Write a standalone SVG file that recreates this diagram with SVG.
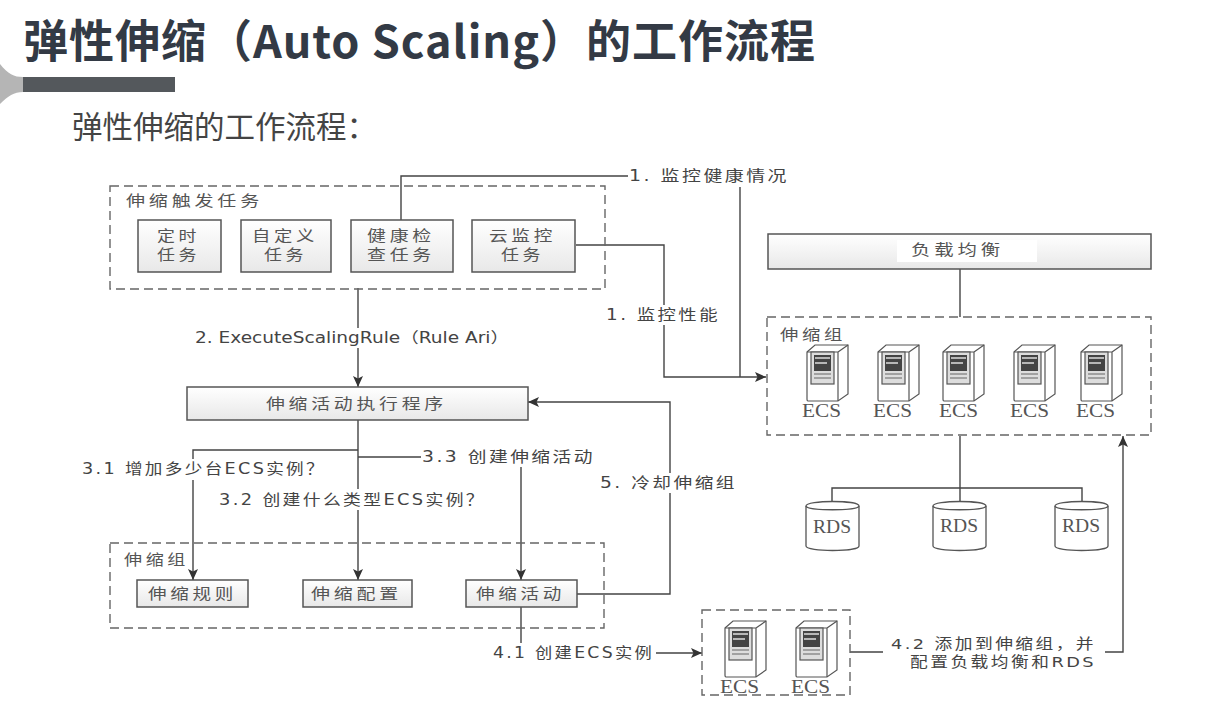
<svg xmlns="http://www.w3.org/2000/svg" width="1221" height="721" viewBox="0 0 1221 721">
<defs>
<linearGradient id="g" x1="0" y1="0" x2="0" y2="1"><stop offset="0" stop-color="#fff"/><stop offset="1" stop-color="#e8e8e8"/></linearGradient>
<marker id="a" markerUnits="userSpaceOnUse" markerWidth="12" markerHeight="10" refX="11" refY="5" orient="auto"><path d="M0 0L11 5L0 10L2.5 5Z" fill="#333"/></marker>
<g id="srv">
<path d="M0 7L8 0H41V49L31 56H1Q0 56 0 54Z" fill="#fff" stroke="#555" stroke-width="1.2"/>
<path d="M0 7H31V56M31 7L41 0" fill="none" stroke="#555" stroke-width="1.2"/>
<rect x="4" y="7" width="23" height="32" fill="#ddd" stroke="#555" stroke-width="1.2"/>
<rect x="7" y="10" width="17" height="16" fill="#444"/>
<path d="M8 13H23M8 18H20" stroke="#ddd" stroke-width="1.3"/>
<path d="M7 29H24M7 33H24" stroke="#666" stroke-width="1.2"/>
</g>
<g id="cyl">
<path d="M0 5C0 -1 53 -1 53 5V45C53 51 0 51 0 45Z" fill="#fff" stroke="#555" stroke-width="1.3"/>
<path d="M0 5C0 10 53 10 53 5" fill="none" stroke="#555" stroke-width="1.3"/>
</g>
</defs>
<style>
.z{font-family:"Noto Sans CJK SC","Liberation Sans",sans-serif}
.l{font-size:15px;letter-spacing:2px;fill:#444;font-family:"DejaVu Sans","Noto Sans CJK SC",sans-serif}
.t{font-size:14.5px}
.n{font-size:15px;letter-spacing:3px;fill:#555;font-family:"Noto Sans CJK SC",sans-serif}
.b{fill:url(#g);stroke:#555;stroke-width:1.5}
.d{fill:none;stroke:#666;stroke-width:1.4;stroke-dasharray:9 5}
.c{fill:none;stroke:#444;stroke-width:1.4}
.m{fill:#fff}
.e{font-family:"Liberation Serif",serif;font-size:19px;fill:#555}
</style>
<rect width="1221" height="721" fill="#fff"/>
<g id="decor"><path d="M0 64C8 74 14 77 23 77V92C14 92 8 96 0 104Z" fill="#b5b5b5"/><rect x="23" y="77" width="152" height="15" fill="#54585c"/></g>
<text x="23" y="58" class="z" font-size="45" font-weight="700" fill="#333a45" textLength="792">弹性伸缩（Auto Scaling）的工作流程</text>
<text x="72" y="138" class="z" font-size="30.5" fill="#444">弹性伸缩的工作流程：</text>
<g id="connectors">
<path class="c" d="M401 220V176H628"/>
<path class="c" d="M740 187V377"/>
<path class="c" d="M576 245H664V377H766" marker-end="url(#a)"/>
<path class="c" d="M358 288V387" marker-end="url(#a)"/>
<path class="c" d="M358 420V580" marker-end="url(#a)"/>
<path class="c" d="M358 450H193V580" marker-end="url(#a)"/>
<path class="c" d="M358 457H521V580" marker-end="url(#a)"/>
<path class="c" d="M577 594H670V402H528" marker-end="url(#a)"/>
<path class="c" d="M521 607V653H702" marker-end="url(#a)"/>
<path class="c" d="M850 652H1123V436" marker-end="url(#a)"/>
<path class="c" d="M960 269V317"/>
<path class="c" d="M960 436V511"/>
<path class="c" d="M832 502V488H1082V502"/>
</g>
<g id="trigger-group"><rect class="d" x="110" y="186" width="495" height="103"/><text x="126" y="206" class="n" textLength="137" lengthAdjust="spacingAndGlyphs">伸缩触发任务</text></g>
<g id="n1"><rect class="b" x="138" y="220" width="83" height="52"/><text class="n" x="157" y="241" textLength="43" lengthAdjust="spacingAndGlyphs">定时</text><text class="n" x="157" y="260" textLength="43" lengthAdjust="spacingAndGlyphs">任务</text></g>
<g id="n2"><rect class="b" x="241" y="220" width="90" height="52"/><text class="n" x="252" y="241" textLength="66" lengthAdjust="spacingAndGlyphs">自定义</text><text class="n" x="264" y="260" textLength="43" lengthAdjust="spacingAndGlyphs">任务</text></g>
<g id="n3"><rect class="b" x="351" y="220" width="102" height="52"/><text class="n" x="367" y="241" textLength="68" lengthAdjust="spacingAndGlyphs">健康检</text><text class="n" x="367" y="260" textLength="68" lengthAdjust="spacingAndGlyphs">查任务</text></g>
<g id="n4"><rect class="b" x="472" y="220" width="103" height="52"/><text class="n" x="489" y="241" textLength="67" lengthAdjust="spacingAndGlyphs">云监控</text><text class="n" x="501" y="260" textLength="43" lengthAdjust="spacingAndGlyphs">任务</text></g>
<g id="exec"><rect class="b" x="187" y="387" width="341" height="33"/><text class="n" x="266" y="409" textLength="181" lengthAdjust="spacingAndGlyphs">伸缩活动执行程序</text></g>
<g id="scale-group"><rect class="d" x="110" y="543" width="494" height="85"/><text x="124" y="565" class="n" textLength="65" lengthAdjust="spacingAndGlyphs">伸缩组</text></g>
<g id="n5"><rect class="b" x="137" y="580" width="111" height="27"/><text class="n" x="148" y="599" textLength="89" lengthAdjust="spacingAndGlyphs">伸缩规则</text></g>
<g id="n6"><rect class="b" x="303" y="580" width="109" height="27"/><text class="n" x="311" y="599" textLength="91" lengthAdjust="spacingAndGlyphs">伸缩配置</text></g>
<g id="n7"><rect class="b" x="466" y="580" width="111" height="27"/><text class="n" x="476" y="599" textLength="89" lengthAdjust="spacingAndGlyphs">伸缩活动</text></g>
<g id="lb"><rect class="b" x="768" y="234" width="383" height="35"/><rect class="m" x="897" y="240" width="140" height="22"/><text class="n" x="911" y="255" textLength="93" lengthAdjust="spacingAndGlyphs">负载均衡</text></g>
<g id="ecs-group"><rect class="d" x="767" y="317" width="384" height="118"/><text x="780" y="340" class="n" textLength="66" lengthAdjust="spacingAndGlyphs">伸缩组</text>
<use href="#srv" x="807" y="345"/><use href="#srv" x="878" y="345"/><use href="#srv" x="943" y="345"/><use href="#srv" x="1014" y="345"/><use href="#srv" x="1081" y="345"/>
<text class="e" x="802" y="417" textLength="39" lengthAdjust="spacingAndGlyphs">ECS</text><text class="e" x="873" y="417" textLength="39" lengthAdjust="spacingAndGlyphs">ECS</text><text class="e" x="939" y="417" textLength="39" lengthAdjust="spacingAndGlyphs">ECS</text><text class="e" x="1010" y="417" textLength="39" lengthAdjust="spacingAndGlyphs">ECS</text><text class="e" x="1076" y="417" textLength="39" lengthAdjust="spacingAndGlyphs">ECS</text></g>
<g id="rds1"><use href="#cyl" x="806" y="501"/><text class="e" x="813" y="533" textLength="38" lengthAdjust="spacingAndGlyphs">RDS</text></g>
<g id="rds2"><use href="#cyl" x="933" y="501"/><text class="e" x="940" y="532" textLength="38" lengthAdjust="spacingAndGlyphs">RDS</text></g>
<g id="rds3"><use href="#cyl" x="1055" y="501"/><text class="e" x="1062" y="532" textLength="38" lengthAdjust="spacingAndGlyphs">RDS</text></g>
<g id="new-ecs"><rect class="d" x="702" y="610" width="148" height="85"/>
<use href="#srv" x="725" y="621"/><use href="#srv" x="796" y="621"/>
<text class="e" x="720" y="693" textLength="39" lengthAdjust="spacingAndGlyphs">ECS</text><text class="e" x="791" y="693" textLength="39" lengthAdjust="spacingAndGlyphs">ECS</text></g>
<g id="labels">
<rect class="m" x="628" y="166" width="163" height="20"/>
<text class="l" x="629" y="181" textLength="160" lengthAdjust="spacingAndGlyphs">1. 监控健康情况</text>
<rect class="m" x="605" y="305" width="118" height="20"/>
<text class="l" x="606" y="320" textLength="114" lengthAdjust="spacingAndGlyphs">1. 监控性能</text>
<rect class="m" x="193" y="328" width="318" height="20"/>
<text class="l" x="195" y="343" textLength="314" lengthAdjust="spacingAndGlyphs" style="letter-spacing:0">2. ExecuteScalingRule（Rule Ari）</text>
<rect class="m" x="81" y="459" width="248" height="21"/>
<text class="l" x="82" y="474" textLength="244" lengthAdjust="spacingAndGlyphs">3.1 增加多少台ECS实例？</text>
<rect class="m" x="218" y="489" width="270" height="21"/>
<text class="l" x="219" y="505" textLength="267" lengthAdjust="spacingAndGlyphs">3.2 创建什么类型ECS实例？</text>
<rect class="m" x="421" y="447" width="176" height="20"/>
<text class="l" x="422" y="462" textLength="173" lengthAdjust="spacingAndGlyphs">3.3 创建伸缩活动</text>
<rect class="m" x="599" y="473" width="140" height="20"/>
<text class="l" x="600" y="488" textLength="137" lengthAdjust="spacingAndGlyphs">5. 冷却伸缩组</text>
<rect class="m" x="492" y="643" width="164" height="20"/>
<text class="l" x="493" y="658" textLength="161" lengthAdjust="spacingAndGlyphs">4.1 创建ECS实例</text>
<rect class="m" x="883" y="634" width="222" height="36"/>
<text class="l t" x="891" y="649" textLength="205" lengthAdjust="spacingAndGlyphs">4.2 添加到伸缩组，并</text>
<text class="l t" x="910" y="667" textLength="186" lengthAdjust="spacingAndGlyphs">配置负载均衡和RDS</text>
</g>
</svg>
